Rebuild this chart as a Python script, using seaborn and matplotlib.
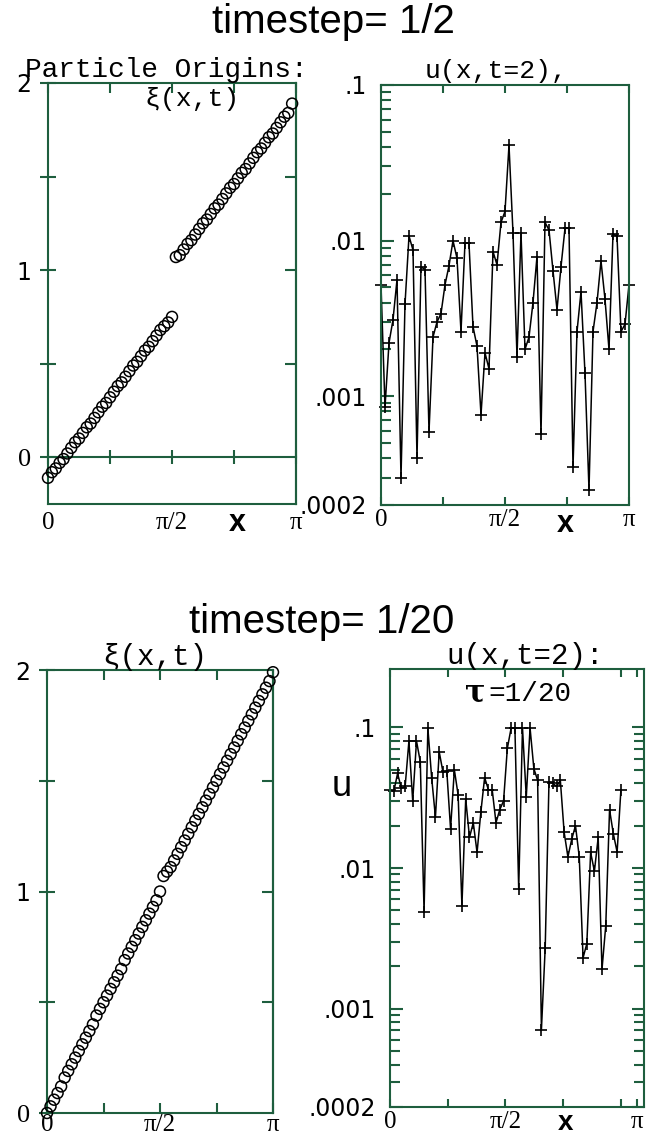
import numpy as np
import seaborn as sns
import matplotlib.pyplot as plt
from matplotlib.ticker import FixedLocator, NullFormatter

PI = np.pi
GREEN = '#1e5e3e'

# particle origins xi(x,t), timestep 1/2 (jump near pi/2)
xi_top = [-0.11, -0.08, -0.06, -0.03, -0.01, 0.02, 0.05, 0.08, 0.10, 0.13,
          0.16, 0.18, 0.21, 0.24, 0.27, 0.29, 0.32, 0.35, 0.38, 0.40,
          0.43, 0.46, 0.49, 0.51, 0.54, 0.57, 0.59, 0.62, 0.65, 0.68,
          0.70, 0.72, 0.75,
          1.07, 1.08, 1.11, 1.14, 1.16, 1.19, 1.22, 1.25, 1.27, 1.30,
          1.33, 1.35, 1.38, 1.41, 1.44, 1.46, 1.49, 1.52, 1.54, 1.57,
          1.60, 1.63, 1.65, 1.68, 1.71, 1.73, 1.76, 1.79, 1.82, 1.84, 1.89]

# particle origins xi(x,t), timestep 1/20
xi_bot = [0.00, 0.03, 0.06, 0.09, 0.12, 0.16, 0.19, 0.22, 0.25, 0.28,
          0.31, 0.34, 0.37, 0.40, 0.44, 0.47, 0.50, 0.53, 0.56, 0.59,
          0.62, 0.65, 0.69, 0.72, 0.75, 0.78, 0.81, 0.84, 0.87, 0.90,
          0.93, 0.96, 1.00,
          1.07, 1.09, 1.11, 1.14, 1.17, 1.20, 1.23, 1.26, 1.29, 1.32,
          1.35, 1.38, 1.41, 1.44, 1.47, 1.50, 1.53, 1.56, 1.59, 1.62,
          1.65, 1.68, 1.71, 1.74, 1.77, 1.80, 1.83, 1.86, 1.89, 1.92,
          1.95, 1.99]

# u(x,t=2), timestep 1/2
u_top = [0.0052, 0.00085, 0.0022, 0.0031, 0.0056, 0.0003, 0.0039, 0.0107,
         0.0087, 0.0004, 0.0068, 0.0065, 0.00059, 0.0024, 0.0030, 0.0034,
         0.0052, 0.0069, 0.0100, 0.0077, 0.0026, 0.0097, 0.0096, 0.0028,
         0.0021, 0.00076, 0.0019, 0.0015, 0.0085, 0.0070, 0.0131, 0.0154,
         0.041, 0.0112, 0.0018, 0.0112, 0.0020, 0.0024, 0.0040, 0.0079,
         0.00057, 0.0131, 0.0117, 0.0064, 0.0036, 0.0068, 0.0120, 0.0120,
         0.00035, 0.0026, 0.0047, 0.0014, 0.00025, 0.0026, 0.0040, 0.0074,
         0.0042, 0.0020, 0.0110, 0.0107, 0.0026, 0.0029, 0.0052]

# u(x,t=2), timestep 1/20
u_bot = [0.036, 0.035, 0.047, 0.037, 0.038, 0.080, 0.030, 0.080, 0.057,
         0.0049, 0.099, 0.044, 0.023, 0.067, 0.048, 0.049, 0.019, 0.050,
         0.033, 0.0054, 0.031, 0.0165, 0.021, 0.0129, 0.025, 0.044, 0.036,
         0.036, 0.021, 0.026, 0.030, 0.071, 0.099, 0.099, 0.0071, 0.099,
         0.032, 0.099, 0.051, 0.042, 0.00071, 0.0027, 0.041, 0.040, 0.038,
         0.042, 0.018, 0.012, 0.016, 0.020, 0.012, 0.0023, 0.0029, 0.0129,
         0.0095, 0.0165, 0.0019, 0.0039, 0.026, 0.0175, 0.013, 0.036]

x_xi_top = np.arange(len(xi_top)) * PI / 64
x_xi_bot = np.arange(len(xi_bot)) * PI / 64
x_u_top = np.linspace(0, PI, len(u_top))
x_u_bot = np.linspace(0, PI, len(u_bot))

log_major = [2e-4, 1e-3, 1e-2, 1e-1]
log_labels = ['.0002', '.001', '.01', '.1']
log_minor = [k * 10.0 ** e for e in (-4, -3, -2) for k in range(2, 10)
             if k * 10.0 ** e > 2e-4]

sns.set_theme(style='white')
plt.rcParams['font.family'] = ['Liberation Sans', 'DejaVu Sans']
plt.rcParams['text.color'] = 'black'

W, H = 646, 1137
fig = plt.figure(figsize=(W / 100, H / 100), dpi=100)


def box(l, t, r, b):
    return [l / W, 1 - b / H, (r - l) / W, (b - t) / H]


def tidy(ax):
    for sp in ax.spines.values():
        sp.set_visible(True)
        sp.set_color(GREEN)
        sp.set_linewidth(1.5)
    ax.set_xlabel('')
    ax.set_ylabel('')
    ax.grid(False)


def fonts(labels, family, size):
    for t in labels:
        t.set_fontfamily(family)
        t.set_fontsize(size)


def xi_panel(ax, x, y, ylim):
    sns.scatterplot(x=x, y=y, ax=ax, marker='o', s=62, facecolor='none',
                    edgecolor='black', linewidth=1.1, zorder=3, clip_on=False)
    tidy(ax)
    ax.set_xlim(0, PI)
    ax.set_ylim(*ylim)
    ax.set_xticks([0, PI / 2, PI])
    ax.set_xticklabels(['0', 'π/2', 'π'])
    ax.set_xticks([PI / 4, 3 * PI / 4], minor=True)
    fonts(ax.get_xticklabels(), 'Liberation Serif', 18)
    ax.set_yticks([0, 1, 2])
    ax.set_yticklabels(['0', '1', '2'])
    ax.set_yticks([0.5, 1.5], minor=True)
    fonts(ax.get_yticklabels(), 'DejaVu Sans', 17)
    ax.get_yticklabels()[0].set_fontfamily('Liberation Serif')
    ax.get_yticklabels()[0].set_fontsize(19)
    ax.tick_params(axis='y', which='both', left=True, right=False,
                   direction='inout', length=12, width=1.5, color=GREEN,
                   labelcolor='black', pad=6)
    rt = ax.secondary_yaxis('right')
    rt.set_yticks([0.5, 1, 1.5])
    rt.tick_params(direction='in', length=8, width=1.5, color=GREEN,
                   labelright=False, labelleft=False)
    for sp in rt.spines.values():
        sp.set_color(GREEN)
        sp.set_linewidth(1.5)


def u_panel(ax, x, y, ylim, xmax, pi_at, right_ticks):
    sns.lineplot(x=x, y=y, ax=ax, color='black', lw=1.1, marker='+',
                 markersize=9, markeredgewidth=1.2, markeredgecolor='black',
                 clip_on=False)
    tidy(ax)
    ax.set_yscale('log')
    ax.set_ylim(*ylim)
    ax.set_xlim(0, xmax)
    ax.yaxis.set_major_locator(FixedLocator(log_major))
    ax.set_yticklabels(log_labels)
    ax.yaxis.set_minor_locator(FixedLocator(log_minor))
    ax.yaxis.set_minor_formatter(NullFormatter())
    fonts(ax.get_yticklabels(), 'DejaVu Sans', 17)
    ax.tick_params(axis='y', which='major', direction='in', length=9,
                   width=1.5, color=GREEN, left=True, right=right_ticks,
                   labelcolor='black', pad=10)
    ax.tick_params(axis='y', which='minor', direction='in', length=7,
                   width=1.5, color=GREEN, left=True, right=right_ticks)
    ax.set_xticks([0, PI / 2, pi_at])
    ax.set_xticklabels(['0', 'π/2', 'π'])
    ax.set_xticks([PI / 4, 3 * PI / 4, PI] if xmax > PI else
                  [PI / 4, 3 * PI / 4], minor=True)
    fonts(ax.get_xticklabels(), 'Liberation Serif', 18)
    ax.tick_params(axis='x', which='both', direction='in', length=6,
                   width=1.5, color=GREEN, top=True, bottom=True,
                   labelcolor='black', pad=3)


# ---- timestep 1/2 ----
fig.text(333 / W, 1 - 33 / H, 'timestep= 1/2', ha='center', va='baseline',
         fontsize=29, family='Liberation Sans')

ax1 = fig.add_axes(box(48, 83, 296, 504))
xi_panel(ax1, x_xi_top, xi_top, (-0.25, 2))
ax1.tick_params(axis='x', which='both', bottom=False, top=True,
                direction='in', length=7, width=1.5, color=GREEN,
                labelcolor='black', pad=6)
zero = ax1.secondary_xaxis(0.25 / 2.25)
zero.set_xticks([0, PI / 4, PI / 2, 3 * PI / 4, PI])
zero.tick_params(direction='inout', length=10, width=1.5, color=GREEN,
                 labelbottom=False, labeltop=False)
for sp in zero.spines.values():
    sp.set_color(GREEN)
    sp.set_linewidth(1.5)

fig.text(25 / W, 1 - 77 / H, 'Particle Origins:', ha='left', va='baseline',
         fontsize=20, family='Liberation Mono')
fig.text(192 / W, 1 - 106 / H, 'ξ(x,t)', ha='center', va='baseline',
         fontsize=19, family=['Liberation Mono', 'DejaVu Sans Mono'])
fig.text(237 / W, 1 - 523 / H, 'x', ha='center', va='center',
         fontsize=22, fontweight='bold', family='Liberation Sans')

ax2 = fig.add_axes(box(381, 85, 629, 505))
u_panel(ax2, x_u_top, u_top, (2e-4, 0.1), PI, PI, False)
fig.text(496 / W, 1 - 78 / H, 'u(x,t=2),', ha='center', va='baseline',
         fontsize=19, family='Liberation Mono')
fig.text(565 / W, 1 - 524 / H, 'x', ha='center', va='center',
         fontsize=22, fontweight='bold', family='Liberation Sans')

# ---- timestep 1/20 ----
fig.text(322 / W, 1 - 633 / H, 'timestep= 1/20', ha='center', va='baseline',
         fontsize=29, family='Liberation Sans')

ax3 = fig.add_axes(box(47, 670, 273, 1113))
xi_panel(ax3, x_xi_bot, xi_bot, (0, 2))
ax3.tick_params(axis='x', which='both', bottom=True, top=True,
                direction='in', length=7, width=1.5, color=GREEN,
                labelcolor='black', pad=1)
fig.text(155 / W, 1 - 665 / H, 'ξ(x,t)', ha='center', va='baseline',
         fontsize=21, family=['Liberation Mono', 'DejaVu Sans Mono'])

ax4 = fig.add_axes(box(390, 669, 644, 1107))
u_panel(ax4, x_u_bot, u_bot, (2e-4, 0.26), 1.1 * PI, 1.07 * PI, True)
fig.text(525 / W, 1 - 664 / H, 'u(x,t=2):', ha='center', va='baseline',
         fontsize=21, family='Liberation Mono')
fig.text(475 / W, 1 - 701 / H, 'τ', ha='center', va='baseline',
         fontsize=22, fontweight='bold', family='DejaVu Serif')
fig.text(488 / W, 1 - 701 / H, '=1/20', ha='left', va='baseline',
         fontsize=20, family='Liberation Mono')
fig.text(342 / W, 1 - 787 / H, 'u', ha='center', va='center',
         fontsize=26, family='Liberation Sans')
fig.text(566 / W, 1 - 1123 / H, 'x', ha='center', va='center',
         fontsize=20, fontweight='bold', family='Liberation Sans')

fig.savefig('out.png', dpi=100)
